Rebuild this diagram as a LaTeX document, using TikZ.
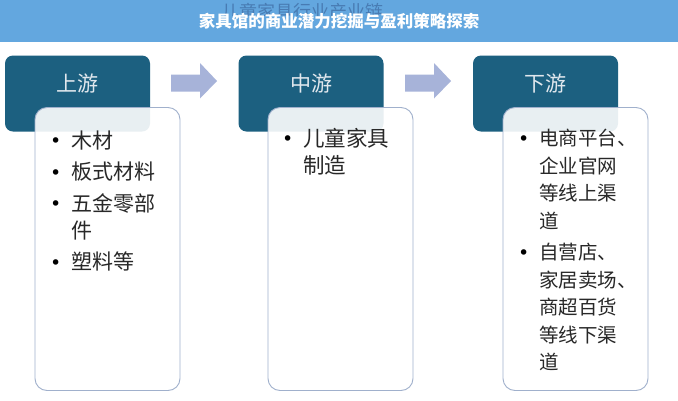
\documentclass[tikz,border=0pt]{standalone}
\usepackage{fontspec}
\newfontfamily\cjk{Noto Sans CJK SC}
\newfontfamily\dejavu{DejaVu Sans}
\definecolor{bannerblue}{RGB}{99,167,223}
\definecolor{headblue}{RGB}{28,96,128}
\definecolor{headtext}{RGB}{225,232,238}
\definecolor{bodyline}{RGB}{160,176,204}
\definecolor{arrowc}{RGB}{167,179,217}
\definecolor{ghostc}{RGB}{55,95,150}
\definecolor{bodytext}{RGB}{40,40,40}
\newcommand\bul{\makebox[20pt][l]{\hspace*{-1pt}\raisebox{0.5pt}{\color{black}\dejavu\fontsize{19}{19}\selectfont •}}}
\newcommand\nl{\hfil\break}
\newcommand\itm[1]{\hangindent=20pt\hangafter=1\noindent\bul#1\par}
\newcommand\itembox[4]{\parbox[t]{#1}{\raggedright\parindent=0pt\parskip=0pt\fontsize{#2}{#3}\selectfont #4}}
\tikzset{
  header/.style={fill=headblue, rounded corners=8pt, minimum width=145pt, minimum height=76pt, inner sep=0pt},
  headlabel/.style={text=headtext, font=\cjk\fontsize{21}{21}\selectfont, inner sep=0pt},
  bodybox/.style={draw=bodyline, line width=0.9pt, fill=white, fill opacity=0.9, text opacity=1, rounded corners=12pt, minimum width=145pt, minimum height=283pt, inner sep=0pt},
  items/.style={anchor=base west, inner sep=0pt, text=bodytext, font=\cjk},
  flowarrow/.style={fill=arrowc},
}
\begin{document}
\begin{tikzpicture}[x=1pt,y=-1pt]
\useasboundingbox (0,0) rectangle (678,400);
\fill[white] (0,0) rectangle (678,400);
% banner
\fill[bannerblue] (0,0) rectangle (678,42);
\begin{scope}
  \clip (0,0) rectangle (678,15);
  \node[text=ghostc, opacity=0.6, font=\cjk\fontsize{18}{18}\selectfont, inner sep=0pt] (ghost) at (302,11.5) {儿童家具行业产业链};
\end{scope}
\node[text=white, font=\cjk\bfseries\fontsize{16.5}{16.5}\selectfont, inner sep=0pt] (title) at (339,21) {家具馆的商业潜力挖掘与盈利策略探索};
% headers
\node[header] (h1) at (77.5,93.5) {};
\node[header] (h2) at (311,93.5) {};
\node[header] (h3) at (545.5,93.5) {};
\node[headlabel] (h1t) at (77.5,84) {上游};
\node[headlabel] (h2t) at (311,84) {中游};
\node[headlabel] (h3t) at (545.5,84) {下游};
% arrows
\fill[flowarrow] (171,74.5) -- (200,74.5) -- (200,63) -- (217,81) -- (200,98.5) -- (200,91.5) -- (171,91.5) -- cycle;
\fill[flowarrow] (405,74.5) -- (434,74.5) -- (434,63) -- (451,81) -- (434,98.5) -- (434,91.5) -- (405,91.5) -- cycle;
% bodies
\node[bodybox] (b1) at (107.5,249) {};
\node[bodybox] (b2) at (340.5,249) {};
\node[bodybox] (b3) at (575.5,249) {};
% items
\node[items] (t1) at (51,148) {\itembox{120pt}{21}{27}{%
\itm{木材}\vspace{4.5pt}
\itm{板式材料}\vspace{4.5pt}
\itm{五金零部\nl 件}\vspace{4.5pt}
\itm{塑料等}}};
\node[items] (t2) at (283,146) {\itembox{120pt}{21.5}{27}{%
\itm{儿童家具\nl 制造}}};
\node[items] (t3) at (519,145.5) {\itembox{125pt}{19.5}{27.5}{%
\itm{电商平台、\nl 企业官网\nl 等线上渠\nl 道}\vspace{4pt}
\itm{自营店、\nl 家居卖场、\nl 商超百货\nl 等线下渠\nl 道}}};
\end{tikzpicture}
\end{document}
